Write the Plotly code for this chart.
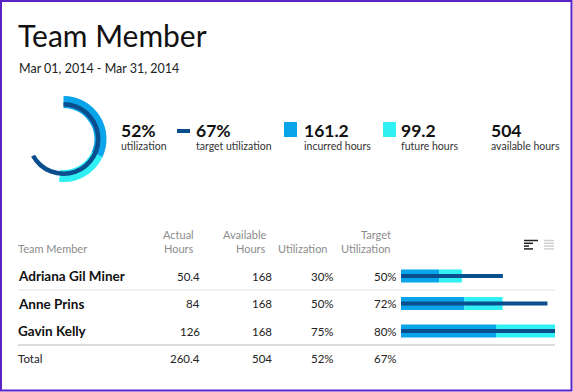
import plotly.graph_objects as go

W, H = 573, 392

# ---------------- data ----------------
title = "Team Member"
date_range = "Mar 01, 2014 - Mar 31, 2014"

kpi_values = ["52%", "67%", "161.2", "99.2", "504"]
kpi_labels = ["utilization", "target utilization", "incurred hours", "future hours", "available hours"]

incurred_total = 161.2
future_total = 99.2
available_total = 504
target_util_total = 0.67

members = ["Adriana Gil Miner", "Anne Prins", "Gavin Kelly"]
actual_hours = [50.4, 84, 126]
available_hours = [168, 168, 168]
utilization = ["30%", "50%", "75%"]
target_utilization = ["50%", "72%", "80%"]
total_row = ["Total", "260.4", "504", "52%", "67%"]

# bar chart values
bar_incurred = [50.4, 84, 126]
bar_future = [30.2, 50.6, 78]
bar_target = [135, 194, 215]

header_top = ["", "Actual", "Available", "", "Target"]
header_bottom = ["Team Member", "Hours", "Hours", "Utilization", "Utilization"]

# ---------------- style ----------------
BLUE = "#0AA4EA"
CYAN = "#30F0F4"
NAVY = "#0B4E8E"
PURPLE = "#5A23C8"
FONT = "Lato"
TXT = "#1a1a1a"
GRAY = "#8c8c8c"


def px(x):
    return x / W


def py(y):
    return 1 - y / H


fig = go.Figure()

# ---------------- donut ----------------
cx, cy = 63.5, 139
r_out, r_in = 43, 31
fig.add_trace(go.Pie(
    values=[incurred_total, future_total, available_total - incurred_total - future_total],
    marker=dict(colors=[BLUE, CYAN, "rgba(0,0,0,0)"], line=dict(width=0)),
    hole=r_in / r_out, sort=False, direction="clockwise", rotation=0,
    textinfo="none", hoverinfo="skip", showlegend=False,
    domain=dict(x=[px(cx - r_out), px(cx + r_out)], y=[py(cy + r_out), py(cy - r_out)]),
))
r2_out, r2_in = 37, 32.5
fig.add_trace(go.Pie(
    values=[target_util_total, 1 - target_util_total],
    marker=dict(colors=[NAVY, "rgba(0,0,0,0)"], line=dict(width=0)),
    hole=r2_in / r2_out, sort=False, direction="clockwise", rotation=0,
    textinfo="none", hoverinfo="skip", showlegend=False,
    domain=dict(x=[px(cx - r2_out), px(cx + r2_out)], y=[py(cy + r2_out), py(cy - r2_out)]),
))

# ---------------- bullet bars ----------------
rows = list(range(len(members)))
fig.add_trace(go.Bar(y=rows, x=bar_incurred, base=0, orientation="h", width=0.47,
                     marker=dict(color=BLUE, line=dict(width=0)), hoverinfo="skip", showlegend=False))
fig.add_trace(go.Bar(y=rows, x=bar_future, base=bar_incurred, orientation="h", width=0.47,
                     marker=dict(color=CYAN, line=dict(width=0)), hoverinfo="skip", showlegend=False))
fig.add_trace(go.Bar(y=rows, x=bar_target, base=0, orientation="h", width=0.15,
                     marker=dict(color=NAVY, line=dict(width=0)), hoverinfo="skip", showlegend=False))

row_y = [276, 303.5, 331]
step = 27.5
fig.update_layout(
    xaxis=dict(domain=[px(401), px(555)], range=[0, 204], visible=False, fixedrange=True),
    yaxis=dict(domain=[py(row_y[-1] + step / 2), py(row_y[0] - step / 2)], range=[2.5, -0.5],
               visible=False, fixedrange=True),
    barmode="overlay",
)

ann = []


def text(x, y, s, size, color=TXT, bold=False, anchor="left", family=FONT):
    ann.append(dict(x=px(x), y=py(y), xref="paper", yref="paper", text=f"<b>{s}</b>" if bold else s,
                    showarrow=False, xanchor=anchor, yanchor="middle",
                    font=dict(size=size, color=color, family=family)))


# title & date
text(16, 35, title, 30, color="#111")
text(17, 69, date_range, 12.5, color="#222")

# KPIs
kpi_x = [119, 194, 302, 399, 489]
for x, v, l in zip(kpi_x, kpi_values, kpi_labels):
    text(x, 130, v, 17.5, color="#111", bold=True)
    text(x, 146, l, 10.5, color="#333")

# table headers
col_right = [None, 202, 274, 336, 399]
hdr_right = [None, 196, 268, 330, 393]
text(16, 248, header_bottom[0], 11, color=GRAY)
for i in range(1, 5):
    if header_top[i]:
        text(hdr_right[i], 234, header_top[i], 11, color=GRAY, anchor="right")
    text(hdr_right[i], 248, header_bottom[i], 11, color=GRAY, anchor="right")

# table rows
for r, name in enumerate(members):
    y = row_y[r]
    text(16, y, name, 13.5, color="#111", bold=True)
    vals = [f"{actual_hours[r]:g}", f"{available_hours[r]:g}", utilization[r], target_utilization[r]]
    for i, v in enumerate(vals, start=1):
        text(col_right[i], y, v, 11.5, color="#222", anchor="right")

# total row
text(16, 358, total_row[0], 11.5, color="#222")
for i in range(1, 5):
    text(col_right[i], 358, total_row[i], 11.5, color="#222", anchor="right")

shapes = []
# separators
shapes.append(dict(type="line", xref="paper", yref="paper", x0=px(18), x1=px(555), y0=py(290), y1=py(290),
                   line=dict(color="#e3e3e3", width=1)))
shapes.append(dict(type="line", xref="paper", yref="paper", x0=px(18), x1=px(555), y0=py(345), y1=py(345),
                   line=dict(color="#d2d2d2", width=1.5)))

# KPI legend markers
shapes.append(dict(type="rect", xref="paper", yref="paper", x0=px(177), x1=px(190), y0=py(133), y1=py(129),
                   fillcolor=NAVY, line=dict(width=0)))
shapes.append(dict(type="rect", xref="paper", yref="paper", x0=px(284), x1=px(297), y0=py(137), y1=py(122),
                   fillcolor=BLUE, line=dict(width=0)))
shapes.append(dict(type="rect", xref="paper", yref="paper", x0=px(383), x1=px(396), y0=py(137), y1=py(122),
                   fillcolor=CYAN, line=dict(width=0)))

# sort / list icons
for yy, x1 in zip([240.5, 243.3, 246.1, 248.9], [538, 533, 529, 533]):
    shapes.append(dict(type="line", xref="paper", yref="paper", x0=px(524), x1=px(x1), y0=py(yy), y1=py(yy),
                       line=dict(color="#222", width=1.5)))
    shapes.append(dict(type="line", xref="paper", yref="paper", x0=px(544), x1=px(554), y0=py(yy), y1=py(yy),
                       line=dict(color="#d0d0d0", width=1.5)))

# frame
shapes.append(dict(type="rect", xref="paper", yref="paper", x0=px(1), x1=px(571.5), y0=py(390.5), y1=py(1),
                   line=dict(color=PURPLE, width=2), fillcolor="rgba(0,0,0,0)"))

fig.update_layout(
    width=W, height=H, margin=dict(l=0, r=0, t=0, b=0),
    paper_bgcolor="white", plot_bgcolor="white",
    annotations=ann, shapes=shapes, showlegend=False,
    font=dict(family=FONT),
)

fig.write_html(
    "out.html",
    config={"displayModeBar": False},
    post_script="document.body.style.margin='0';document.body.style.overflow='hidden';",
)
